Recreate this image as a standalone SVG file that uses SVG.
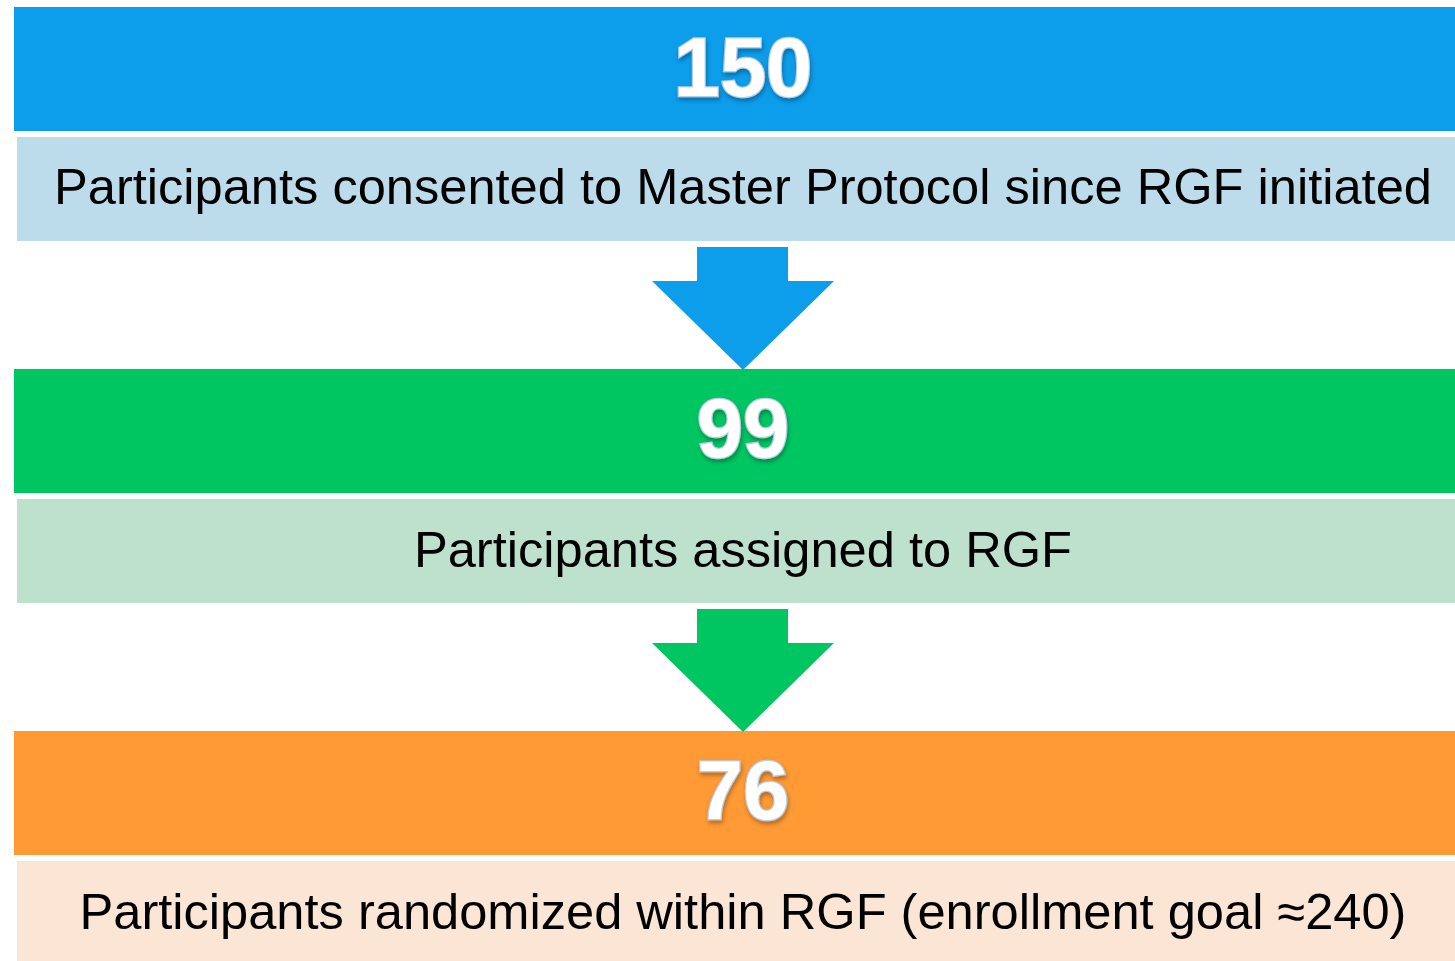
<svg xmlns="http://www.w3.org/2000/svg" width="1455" height="961" viewBox="0 0 1455 961">
<defs>
<style>
.num{font-family:"Liberation Sans",Arial,sans-serif;font-weight:bold;font-size:83px;fill:#ffffff;stroke:#b9cde6;stroke-width:2.5;paint-order:stroke;text-anchor:middle;filter:url(#sh)}
.lbl{font-family:"Liberation Sans",Arial,sans-serif;font-size:50.6px;fill:#000000;text-anchor:middle}
</style>
<filter id="sh" x="-20%" y="-20%" width="140%" height="150%">
<feDropShadow dx="1" dy="3" stdDeviation="2" flood-color="#000000" flood-opacity="0.3"/>
</filter>
</defs>
<rect width="1455" height="961" fill="#ffffff"/>
<g id="node-150">
<rect x="14" y="7" width="1441" height="124" fill="#0c9deb"/>
<text class="num" x="743" y="96">150</text>
</g>
<g id="label-150">
<rect x="17" y="137" width="1438" height="104" fill="#bddceb"/>
<text class="lbl" x="743" y="204">Participants consented to Master Protocol since RGF initiated</text>
</g>
<g id="node-99">
<rect x="14" y="369" width="1441" height="124" fill="#00c662"/>
<text class="num" x="743" y="457">99</text>
</g>
<g id="label-99">
<rect x="17" y="499" width="1438" height="104" fill="#bde1cd"/>
<text class="lbl" x="743" y="567">Participants assigned to RGF</text>
</g>
<g id="node-76">
<rect x="14" y="731" width="1441" height="124" fill="#ff9a34"/>
<text class="num" x="743" y="819">76</text>
</g>
<g id="label-76">
<rect x="17" y="861" width="1438" height="104" fill="#fbe6d6"/>
<text class="lbl" x="743" y="929">Participants randomized within RGF (enrollment goal ≈240)</text>
</g>
<g id="connectors">
<polygon points="697,247 788,247 788,281 834,281 743,370 652,281 697,281" fill="#0c9deb"/>
<polygon points="697,609 788,609 788,643 834,643 743,732 652,643 697,643" fill="#00c662"/>
</g>
</svg>
